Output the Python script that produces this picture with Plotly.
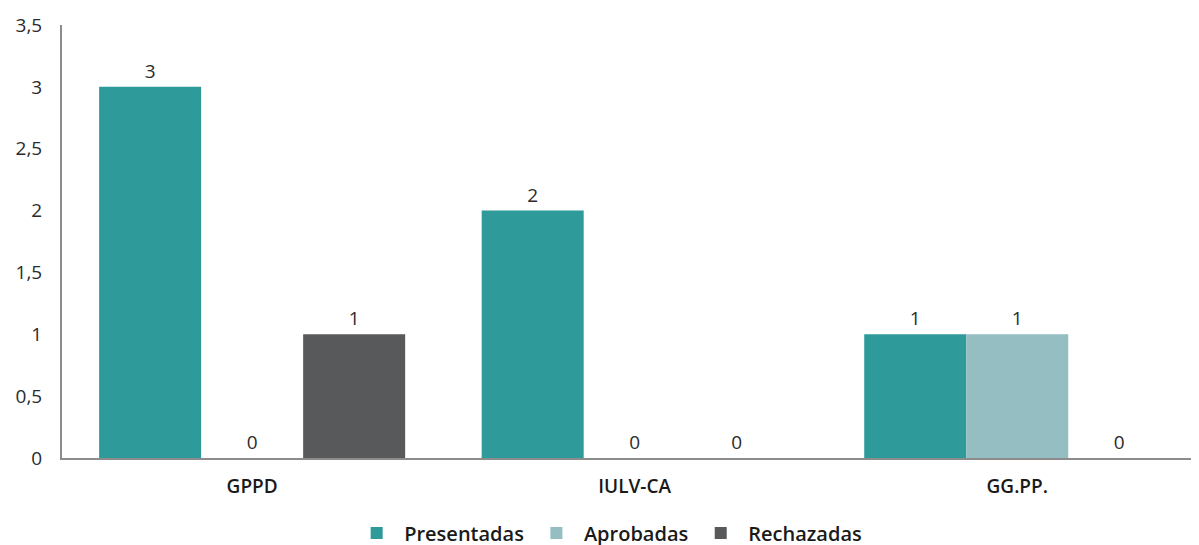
import plotly.graph_objects as go

categories = ["GPPD", "IULV-CA", "GG.PP."]
presentadas = [3, 2, 1]
aprobadas = [0, 0, 1]
rechazadas = [1, 0, 0]

series = [
    ("Presentadas", presentadas, "#2e9a9a"),
    ("Aprobadas", aprobadas, "#95bec2"),
    ("Rechazadas", rechazadas, "#58595b"),
]

FONT = "Open Sans"

fig = go.Figure()
for name, vals, color in series:
    fig.add_trace(go.Bar(
        x=categories, y=vals, name=name,
        marker=dict(color=color, line=dict(width=0)),
        text=[str(v) for v in vals], textposition="outside",
        textfont=dict(family=FONT, size=19, color="#2b2b2b", weight=400),
        cliponaxis=False,
    ))

fig.update_layout(
    width=1199, height=545, autosize=False,
    barmode="group", bargap=0.2, bargroupgap=0,
    separators=",.",
    plot_bgcolor="white", paper_bgcolor="white",
    margin=dict(l=54, r=0, t=17, b=95, autoexpand=False),
    font=dict(family=FONT, size=18, color="#333333"),
    xaxis=dict(
        range=[-0.497, 2.496], showline=True, linecolor="#8c8c8c", linewidth=2,
        ticks="", showgrid=False, ticklabelstandoff=10,
        tickfont=dict(family=FONT, size=19, color="#1a1a1a", weight=600),
    ),
    yaxis=dict(
        range=[0, 3.5], dtick=0.5, showline=True, linecolor="#8c8c8c", linewidth=2,
        showgrid=False, zeroline=False, ticks="", ticklabelstandoff=14,
        tickfont=dict(family=FONT, size=19, color="#2b2b2b", weight=400),
    ),
    legend=dict(
        orientation="h", xref="paper", x=0.477, xanchor="center",
        yref="paper", y=-0.173, yanchor="middle",
        font=dict(family=FONT, size=20, color="#1a1a1a", weight=600),
        tracegroupgap=0, itemwidth=45,
    ),
)

fig.write_html("out.html")
